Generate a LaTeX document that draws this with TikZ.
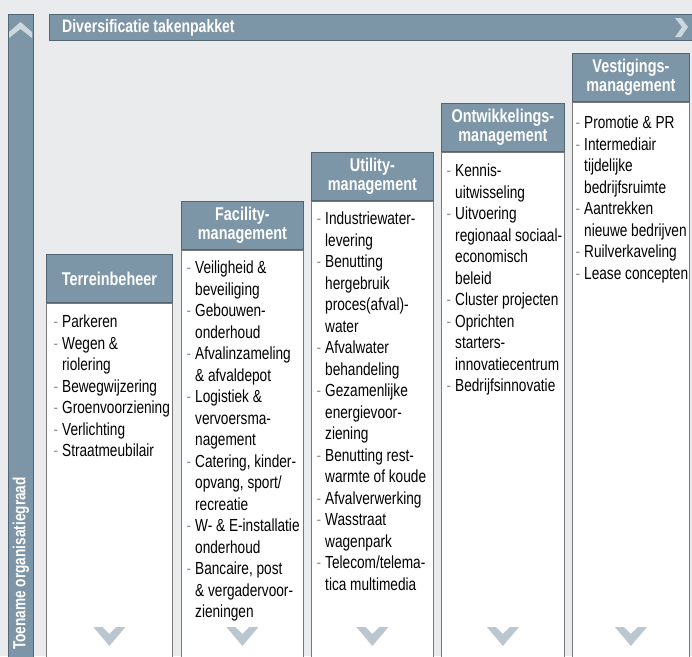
\documentclass[tikz,border=0pt]{standalone}
\usepackage{fontspec}
\setmainfont{Liberation Sans}[FakeStretch=0.78]
\usepackage{xcolor}
\usetikzlibrary{positioning}

\definecolor{paper}{RGB}{234,235,237}
\definecolor{barblue}{RGB}{124,149,167}
\definecolor{barline}{RGB}{84,101,114}
\definecolor{boxline}{RGB}{120,120,120}
\definecolor{chevgray}{RGB}{186,198,208}
\definecolor{chevlight}{RGB}{206,215,222}
\definecolor{dashgray}{RGB}{150,150,150}

\newcommand{\itm}{\llap{\textcolor{dashgray}{-}\hspace{4pt}}}
\newcommand{\downchev}[1]{\fill[chevgray, shift={#1}] (-16,-9) -- (-7,-9) -- (0,-2) -- (7,-9) -- (16,-9) -- (0,10) -- cycle;}

\begin{document}
\begin{tikzpicture}[x=1pt, y=-1pt,
    bar/.style={draw=barline, line width=0.8pt, fill=barblue, inner sep=0pt, anchor=north west},
    colhead/.style={draw=barline, line width=0.8pt, fill=barblue, text=white, align=center,
      font=\bfseries\fontsize{18.5}{19}\selectfont, minimum height=48pt, inner sep=0pt, anchor=north west},
    colbody/.style={draw=boxline, line width=0.8pt, fill=white, minimum height=700pt, inner sep=0pt},
    itemlist/.style={font=\fontsize{17.5}{21.5}\selectfont, align=left, inner sep=0pt, anchor=north west}]

    \useasboundingbox (0,0) rectangle (692,656);
    \clip (0,0) rectangle (692,656);
    \fill[paper] (0,0) rectangle (692,656);

    % === Axes ===
    \node[bar, minimum width=25pt, minimum height=660pt] (sidebar) at (8,14) {};
    \node[bar, minimum width=643pt, minimum height=26pt] (topbar) at (49,14) {};
    \node[anchor=west, text=white, font=\bfseries\fontsize{18}{18}\selectfont, inner sep=0pt] (toplabel) at ([xshift=13pt]topbar.west) {Diversificatie takenpakket};
    \node[rotate=90, anchor=west, text=white, font=\bfseries\fontsize{17.5}{17.5}\selectfont, inner sep=0pt] (sidelabel) at (21,650) {Toename organisatiegraad};
    \fill[chevlight] (9,32) -- (20.5,22) -- (32,32) -- (32,38) -- (20.5,29) -- (9,38) -- cycle;
    \fill[chevlight] (675,18) -- (681,18) -- (688,27) -- (681,37) -- (675,37) -- (682,27) -- cycle;

    % === Terreinbeheer ===
    \node[colhead, minimum width=126pt] (headT) at (46,254) {Terreinbeheer};
    \node[colbody, minimum width=126pt, below=0pt of headT] (bodyT) {};
    \node[itemlist] (listT) at ([xshift=16pt, yshift=-12pt]bodyT.north west) {
      \itm Parkeren\\
      \itm Wegen \&\\
      riolering\\
      \itm Bewegwijzering\\
      \itm Groenvoorziening\\
      \itm Verlichting\\
      \itm Straatmeubilair};

    % === Facility-management ===
    \node[colhead, minimum width=122pt] (headF) at (181,201) {Facility-\\management};
    \node[colbody, minimum width=122pt, below=0pt of headF] (bodyF) {};
    \node[itemlist] (listF) at ([xshift=14pt, yshift=-11pt]bodyF.north west) {
      \itm Veiligheid \&\\
      beveiliging\\
      \itm Gebouwen-\\
      onderhoud\\
      \itm Afvalinzameling\\
      \& afvaldepot\\
      \itm Logistiek \&\\
      vervoersma-\\
      nagement\\
      \itm Catering, kinder-\\
      opvang, sport/\\
      recreatie\\
      \itm W- \& E-installatie\\
      onderhoud\\
      \itm Bancaire, post\\
      \& vergadervoor-\\
      zieningen};

    % === Utility-management ===
    \node[colhead, minimum width=122pt] (headU) at (311,152) {Utility-\\management};
    \node[colbody, minimum width=122pt, below=0pt of headU] (bodyU) {};
    \node[itemlist] (listU) at ([xshift=14pt, yshift=-11pt]bodyU.north west) {
      \itm Industriewater-\\
      levering\\
      \itm Benutting\\
      hergebruik\\
      proces(afval)-\\
      water\\
      \itm Afvalwater\\
      behandeling\\
      \itm Gezamenlijke\\
      energievoor-\\
      ziening\\
      \itm Benutting rest-\\
      warmte of koude\\
      \itm Afvalverwerking\\
      \itm Wasstraat\\
      wagenpark\\
      \itm Telecom/telema-\\
      tica multimedia};

    % === Ontwikkelingsmanagement ===
    \node[colhead, minimum width=123pt] (headO) at (441,103) {Ontwikkelings-\\management};
    \node[colbody, minimum width=123pt, below=0pt of headO] (bodyO) {};
    \node[itemlist] (listO) at ([xshift=14pt, yshift=-12pt]bodyO.north west) {
      \itm Kennis-\\
      uitwisseling\\
      \itm Uitvoering\\
      regionaal sociaal-\\
      economisch\\
      beleid\\
      \itm Cluster projecten\\
      \itm Oprichten\\
      starters-\\
      innovatiecentrum\\
      \itm Bedrijfsinnovatie};

    % === Vestigingsmanagement ===
    \node[colhead, minimum width=117pt] (headV) at (572,53) {Vestigings-\\management};
    \node[colbody, minimum width=117pt, below=0pt of headV] (bodyV) {};
    \node[itemlist] (listV) at ([xshift=12pt, yshift=-14pt]bodyV.north west) {
      \itm Promotie \& PR\\
      \itm Intermediair\\
      tijdelijke\\
      bedrijfsruimte\\
      \itm Aantrekken\\
      nieuwe bedrijven\\
      \itm Ruilverkaveling\\
      \itm Lease concepten};

    % chevrons at the foot of each column
    \coordinate (chevrow) at (0,636);
    \downchev{(bodyT.center |- chevrow)}
    \downchev{(bodyF.center |- chevrow)}
    \downchev{(bodyU.center |- chevrow)}
    \downchev{(bodyO.center |- chevrow)}
    \downchev{(bodyV.center |- chevrow)}

\end{tikzpicture}
\end{document}
